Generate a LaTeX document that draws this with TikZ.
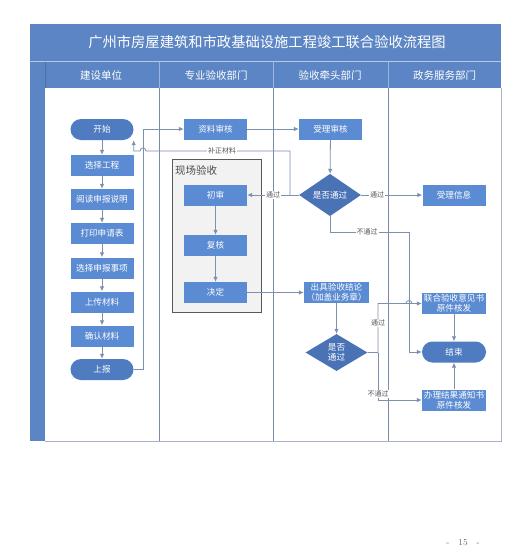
\documentclass[tikz,border=0pt]{standalone}
\usepackage{fontspec}
\newfontfamily\cjk{Noto Sans CJK SC}
\usetikzlibrary{arrows.meta,shapes.geometric}

\definecolor{bandblue}{HTML}{5B85C4}
\definecolor{boxblue}{HTML}{5B8BD2}
\definecolor{termblue}{HTML}{4F7BC0}
\definecolor{diablue}{HTML}{4A73B6}
\definecolor{linegray}{HTML}{7D90AE}
\definecolor{lanegray}{HTML}{7A8CAA}
\definecolor{framegray}{HTML}{A8B4C6}
\definecolor{labelgray}{HTML}{555555}

\begin{document}
\begin{tikzpicture}[x=1pt,y=-1pt,
 box/.style={rectangle,fill=boxblue,text=white,minimum width=63pt,minimum height=21pt,inner sep=0pt,align=center,font=\cjk\fontsize{8.6}{9.8}\selectfont},
 term/.style={box,fill=termblue,rounded corners=10.5pt},
 dia/.style={diamond,fill=diablue,text=white,minimum width=62pt,minimum height=37pt,inner sep=0pt,align=center,font=\cjk\fontsize{8.6}{10}\selectfont},
 conn/.style={draw=linegray,line width=0.8pt},
 arr/.style={conn,-{Latex[length=5pt,width=4.5pt]}},
 lbl/.style={fill=white,text=labelgray,inner sep=1pt,font=\cjk\fontsize{7}{8}\selectfont},
 hdr/.style={text=white,font=\cjk\fontsize{10.5}{12}\selectfont},
 lane/.style={draw=lanegray,line width=0.8pt}]

\useasboundingbox (0,0) rectangle (521,557);
\fill[white] (0,0) rectangle (521,557);

% frame
\fill[bandblue] (30,24) rectangle (501,88);
\draw[white!55!bandblue, line width=0.6pt] (30,61.5) -- (501,61.5);
\fill[bandblue] (30,88) rectangle (45,441);
\draw[framegray, line width=0.8pt] (45,441) -- (501,441) -- (501,88);
\draw[black!15!bandblue, line width=0.6pt] (45,61.5) -- (45,88);
\foreach \lx in {159,273,388} {
  \draw[white!40!bandblue, line width=0.8pt] (\lx,61.5) -- (\lx,88);
  \draw[lane] (\lx,88) -- (\lx,441);
}

\node[text=white,font=\cjk\fontsize{14.3}{16}\selectfont] (title) at (267,42.5) {广州市房屋建筑和市政基础设施工程竣工联合验收流程图};
\node[hdr] (h1) at (101,75) {建设单位};
\node[hdr] (h2) at (216,75) {专业验收部门};
\node[hdr] (h3) at (330,75) {验收牵头部门};
\node[hdr] (h4) at (444.5,75) {政务服务部门};

% on-site acceptance container
\node[draw=black!65,fill=black!5,line width=0.8pt,minimum width=89pt,minimum height=153pt,inner sep=0pt] (xc) at (216.5,235.5) {};
\node[anchor=west,text=black!70,inner sep=0pt,font=\cjk\fontsize{10.5}{12}\selectfont] (xclbl) at (175,170) {现场验收};

% lane 1
\node[term] (ks) at (102,129.5) {开始};
\node[box] (xz) at (102,165.5) {选择工程};
\node[box] (yd) at (102,199.5) {阅读申报说明};
\node[box] (dy) at (102,233.5) {打印申请表};
\node[box] (xs) at (102,268) {选择申报事项};
\node[box] (sc) at (102,302) {上传材料};
\node[box] (qr) at (102,336) {确认材料};
\node[term] (sb) at (102,369.5) {上报};

% lane 2
\node[box] (zl) at (215.5,129) {资料审核};
\node[box] (cs) at (215.5,195) {初审};
\node[box] (fh) at (215.5,245.5) {复核};
\node[box] (jd) at (215.5,292.5) {决定};

% lane 3
\node[box] (sl) at (330.5,129) {受理审核};
\node[dia] (sf1) at (330,195) {是否通过};
\node[box,minimum width=65pt] (cj) at (336.5,292.5) {出具验收结论\\（加盖业务章）};
\node[dia] (sf2) at (336.5,352.5) {是否\\通过};

% lane 4
\node[box] (xx) at (454,195) {受理信息};
\node[box,minimum width=64pt] (lh) at (454,303.5) {联合验收意见书\\原件核发};
\node[term,minimum width=64pt] (js) at (454,352) {结束};
\node[box,minimum width=64pt] (bl) at (454,400) {办理结果通知书\\原件核发};

% connectors lane 1
\draw[arr] (ks) -- (xz);
\draw[arr] (xz) -- (yd);
\draw[arr] (yd) -- (dy);
\draw[arr] (dy) -- (xs);
\draw[arr] (xs) -- (sc);
\draw[arr] (sc) -- (qr);
\draw[arr] (qr) -- (sb);

\coordinate (sbc) at (143,369.5);
\draw[arr] (sb.east) -- (sbc) |- (zl.west);
\draw[arr] (zl) -- (sl);
\draw[arr] (sl) -- (sf1);

\draw[arr] (sf1.west) -- (cs.east);
\node[lbl] (l1) at (273,195) {通过};
\draw[arr] (sf1.east) -- (xx.west);
\node[lbl] (l2) at (377,195) {通过};

\coordinate (bt) at (409,232);
\draw[arr] (sf1.south) |- (bt) |- (js.west);
\node[lbl] (l3) at (367,232) {不通过};

\coordinate (bz1) at (290,195);
\coordinate (bz2) at (290,151);
\draw[arr] (bz1) -- (bz2) -- (146,151) arc[start angle=0,end angle=180,radius=3pt] -- (ks.south east |- bz2) -- (ks.south east);
\node[lbl] (l4) at (222,151) {补正材料};

\draw[arr] (cs) -- (fh);
\draw[arr] (fh) -- (jd);
\draw[arr] (jd.east) -- (cj.west);
\draw[arr] (cj) -- (sf2);

\coordinate (tg) at (378,352.5);
\draw[arr] (sf2.east) -- (tg) -- (tg |- lh.west) -- (412,303.5) arc[start angle=0,end angle=180,radius=3pt] -- (lh.west);
\node[lbl] (l5) at (378,323) {通过};
\draw[arr] (tg) |- (bl.west);
\node[lbl] (l6) at (378,394) {不通过};

\draw[arr] (lh) -- (js);
\draw[arr] (bl) -- (js);

\node[text=black!60,font=\fontsize{9}{10}\selectfont] (pg) at (463,543) {-\quad 15\quad -};
\end{tikzpicture}
\end{document}
